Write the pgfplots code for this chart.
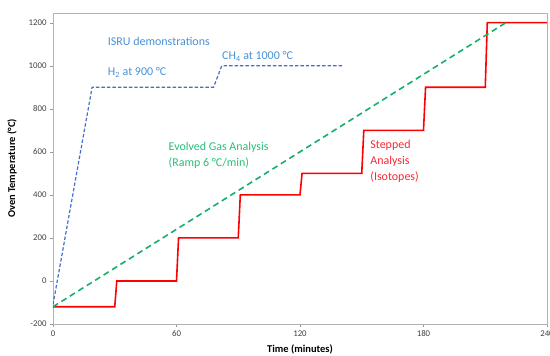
\documentclass[border=0pt]{standalone}
\usepackage{pgfplots}
\pgfplotsset{compat=1.18}
\usepackage{fontspec}
\setmainfont{Carlito}
\definecolor{bline}{RGB}{68,110,200}
\definecolor{btext}{RGB}{70,145,215}
\definecolor{gline}{RGB}{20,175,105}
\definecolor{gtext}{RGB}{40,190,120}
\definecolor{rline}{RGB}{255,0,0}
\definecolor{rtext}{RGB}{250,40,50}
\begin{document}
\begin{tikzpicture}
\begin{axis}[
  scale only axis, width=494bp, height=311bp,
  xmin=0, xmax=240, ymin=-200, ymax=1245,
  xtick={0,60,120,180,240}, ytick={-200,0,200,400,600,800,1000,1200},
  tick label style={font=\fontsize{8.8}{9}\selectfont, text=black!75},
  /pgf/number format/assume math mode=true,
  /pgf/number format/1000 sep={},
  axis line style={black!30},
  tick style={black!40}, tick align=outside, major tick length=3pt,
  xtick pos=bottom, ytick pos=left,
  xlabel={\bfseries Time (minutes)},
  ylabel={\bfseries Oven Temperature (°C)},
  label style={font=\fontsize{10.5}{11}\selectfont},
  xlabel style={at={(rel axis cs:0.5,0)}, anchor=center, yshift=-25bp},
  ylabel style={at={(rel axis cs:0,0.5)}, anchor=center, yshift=41bp},
]
\addplot[rline, line width=1.6pt] coordinates {
(0,-120)(30,-120)(31,0)(60,0)(61,200)(90,200)(91,400)(120,400)(121,500)(150,500)(151,700)(180,700)(181,900)(210,900)(211,1200)(240,1200)};
\addplot[gline, line width=1.6pt, dash pattern=on 6pt off 4pt] coordinates {(0,-120)(220,1200)};
\addplot[bline, line width=1.2pt, dash pattern=on 3.5pt off 2pt] coordinates {(0,-110)(19,900)(78,900)(82,1000)(141,1000)};
\node[anchor=west, text=btext, font=\fontsize{12}{16}\selectfont] at (axis cs:25,1112) {ISRU demonstrations};
\node[anchor=west, text=btext, font=\fontsize{12}{16}\selectfont] at (axis cs:25,969) {H\textsubscript{2} at 900 °C};
\node[anchor=west, text=btext, font=\fontsize{12}{16}\selectfont] at (axis cs:80.5,1043) {CH\textsubscript{4} at 1000 °C};
\node[anchor=west, text=gtext, font=\fontsize{12}{16}\selectfont, align=left] at (axis cs:54.5,582) {Evolved Gas Analysis\\(Ramp 6 °C/min)};
\node[anchor=west, text=rtext, font=\fontsize{12}{16}\selectfont, align=left] at (axis cs:152.5,554) {Stepped\\Analysis\\(Isotopes)};
\end{axis}
\pgfresetboundingbox
\path[use as bounding box] (-53bp,-32bp) rectangle (497bp,324bp);
\end{tikzpicture}
\end{document}
